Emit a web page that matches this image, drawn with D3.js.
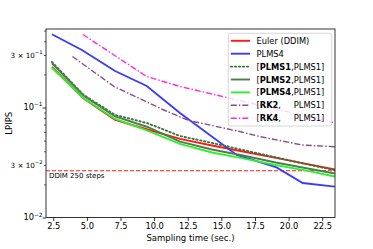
<!DOCTYPE html>
<html>
<head>
<meta charset="utf-8">
<script src="https://cdnjs.cloudflare.com/ajax/libs/d3/7.8.5/d3.min.js"></script>
<style>
body { margin: 0; background: #fff; }
svg text { font-family: "DejaVu Sans", sans-serif; fill: #000; }
</style>
</head>
<body>
<div id="chart"></div>
<script>
//--------------------------- DATA ------------------------------//
var xLower   = [2.40, 4.76, 7.10, 9.51, 11.92, 14.30, 16.60, 19.05, 21.42, 23.43];
var eulerY   = [0.2335, 0.1208, 0.0770, 0.0631, 0.0518, 0.0451, 0.0398, 0.0348, 0.0306, 0.0273];
var plms1Y   = [0.2592, 0.1300, 0.0855, 0.0719, 0.0551, 0.0476, 0.0411, 0.0352, 0.0303, 0.0270];
var plms2Y   = [0.2523, 0.1280, 0.0828, 0.0665, 0.0489, 0.0415, 0.0366, 0.0316, 0.0279, 0.0251];
var plms4mY  = [0.2300, 0.1213, 0.0786, 0.0615, 0.0466, 0.0390, 0.0345, 0.0300, 0.0265, 0.0236];

var plms4X   = [2.40, 4.63, 7.10, 9.45, 11.92, 16.15, 19.10, 21.05, 23.43];
var plms4Y   = [0.463, 0.333, 0.2147, 0.1568, 0.0891, 0.0370, 0.0285, 0.0206, 0.0191];

var rk2X     = [3.93, 7.02, 10.72, 12.57, 16.35, 17.83, 21.02, 23.43];
var rk2Y     = [0.2908, 0.1552, 0.0949, 0.0762, 0.0605, 0.0545, 0.0456, 0.0440];

var rk4X     = [4.70, 9.44, 11.92, 23.30];
var rk4Y     = [0.461, 0.1913, 0.1552, 0.0731];

var ddimRef  = 0.0266;

var xTicks      = [2.5, 5.0, 7.5, 10.0, 12.5, 15.0, 17.5, 20.0, 22.5];
var yMajorTicks = [0.01, 0.1];
var yMinorTicks = [0.02, 0.03, 0.04, 0.05, 0.06, 0.07, 0.08, 0.09, 0.2, 0.3, 0.4, 0.5];
var yLabelTicks = [0.01, 0.03, 0.1, 0.3];

//------------------------- LAYOUT ------------------------------//
var W = 373, H = 249;
var L = 46, R = 335, T = 29, B = 217.5;

var x = d3.scaleLinear().domain([1.96, 23.45]).range([L, R]);
var y = d3.scaleLog().domain([0.01, 0.517]).range([B, T]);

var svg = d3.select("#chart").append("svg")
    .attr("width", W)
    .attr("height", H);

svg.append("defs").append("clipPath").attr("id", "plotclip")
  .append("rect")
    .attr("x", L).attr("y", T)
    .attr("width", R - L).attr("height", B - T);

//-------------------------- AXES -------------------------------//
var xaxis = d3.axisBottom(x)
    .tickValues(xTicks)
    .tickSize(3.5)
    .tickPadding(2)
    .tickFormat(d3.format(".1f"));

var gx = svg.append("g")
    .attr("transform", "translate(0," + B + ")")
    .call(xaxis);
gx.select(".domain").remove();
gx.selectAll("line").attr("stroke", "#000").attr("stroke-width", 0.8);
gx.selectAll("text").attr("font-size", 8.3).attr("font-family", "DejaVu Sans");

var gyMinor = svg.append("g")
    .attr("transform", "translate(" + L + ",0)")
    .call(d3.axisLeft(y).tickValues(yMinorTicks).tickSize(2).tickFormat(""));
gyMinor.select(".domain").remove();
gyMinor.selectAll("line").attr("stroke", "#000").attr("stroke-width", 0.6);

var gyMajor = svg.append("g")
    .attr("transform", "translate(" + L + ",0)")
    .call(d3.axisLeft(y).tickValues(yMajorTicks).tickSize(3.5).tickFormat(""));
gyMajor.select(".domain").remove();
gyMajor.selectAll("line").attr("stroke", "#000").attr("stroke-width", 0.8);

// log tick labels with superscripts
var ylab = svg.append("g");
yLabelTicks.forEach(function(v) {
    var e = Math.floor(Math.log10(v) + 1e-9);
    var m = Math.round(v / Math.pow(10, e));
    var t = ylab.append("text")
        .attr("x", 42.5)
        .attr("y", y(v) + 2.5)
        .attr("text-anchor", "end")
        .attr("font-size", m === 1 ? 8.3 : 7.2);
    t.append("tspan").text(m === 1 ? "10" : m + " \u00d7 10");
    t.append("tspan")
        .attr("dy", -3.5)
        .attr("font-size", m === 1 ? 5.8 : 5.2)
        .text("\u2212" + (-e));
});

svg.append("text")
    .attr("transform", "translate(12," + ((T + B) / 2) + ") rotate(-90)")
    .attr("text-anchor", "middle")
    .attr("font-size", 8.5)
    .text("LPIPS");

svg.append("text")
    .attr("x", (L + R) / 2)
    .attr("y", 241)
    .attr("text-anchor", "middle")
    .attr("font-size", 8.5)
    .text("Sampling time (sec.)");

//-------------------------- LINES ------------------------------//
var plot = svg.append("g").attr("clip-path", "url(#plotclip)");

var line = d3.line()
    .x(function(d) { return x(d[0]); })
    .y(function(d) { return y(d[1]); });

function pairs(xs, ys) { return xs.map(function(v, i) { return [v, ys[i]]; }); }

// reference line
plot.append("path")
    .attr("d", line([[x.domain()[0], ddimRef], [x.domain()[1], ddimRef]]))
    .attr("fill", "none")
    .attr("stroke", "#ff1a1a")
    .attr("stroke-width", 1.2)
    .attr("stroke-dasharray", "4,2");

svg.append("text")
    .attr("x", 49)
    .attr("y", 177.5)
    .attr("font-size", 7)
    .text("DDIM 250 steps");

var series = [
    { name: "euler",  pts: pairs(xLower, eulerY),  color: "#ff1a1a", w: 1.9, dash: null },
    { name: "plms4",  pts: pairs(plms4X, plms4Y),  color: "#3b3bff", w: 1.9, dash: null },
    { name: "plms1m", pts: pairs(xLower, plms1Y),  color: "#3b733b", w: 1.9, dash: "1.4,2.6" },
    { name: "plms2m", pts: pairs(xLower, plms2Y),  color: "#4e7d4e", w: 1.9, dash: null },
    { name: "plms4m", pts: pairs(xLower, plms4mY), color: "#2ef02e", w: 1.9, dash: null },
    { name: "rk2",    pts: pairs(rk2X, rk2Y),      color: "#8a4a8a", w: 1.4, dash: "6,2,1.5,2" },
    { name: "rk4",    pts: pairs(rk4X, rk4Y),      color: "#ff2ad8", w: 1.4, dash: "6,2,1.5,2" }
];

series.forEach(function(s) {
    plot.append("path")
        .attr("d", line(s.pts))
        .attr("fill", "none")
        .attr("stroke", s.color)
        .attr("stroke-width", s.w)
        .attr("stroke-dasharray", s.dash)
        .attr("stroke-linecap", s.dash === "1.4,2.6" ? "round" : "butt");
});

// frame
svg.append("rect")
    .attr("x", L).attr("y", T)
    .attr("width", R - L).attr("height", B - T)
    .attr("fill", "none")
    .attr("stroke", "#000")
    .attr("stroke-width", 0.8);

//-------------------------- LEGEND -----------------------------//
var legendPre  = ["", "", "[", "[", "[", "[", "["];
var legendBold = ["", "", "PLMS1", "PLMS2", "PLMS4", "RK2", "RK4"];
var legendPost = ["Euler (DDIM)", "PLMS4", ",PLMS1]", ",PLMS1]", ",PLMS1]", ",", ","];

var lg = svg.append("g");
lg.append("rect")
    .attr("x", 228.3).attr("y", 33.3)
    .attr("width", 103.4).attr("height", 92.7)
    .attr("rx", 2)
    .attr("fill", "#fff").attr("fill-opacity", 0.8)
    .attr("stroke", "#cccccc").attr("stroke-width", 0.8);

var refEnd = null;
series.forEach(function(s, i) {
    var cy = 40.8 + i * 12.9;
    lg.append("line")
        .attr("x1", 230.8).attr("x2", 250)
        .attr("y1", cy).attr("y2", cy)
        .attr("stroke", s.color)
        .attr("stroke-width", s.w)
        .attr("stroke-dasharray", s.dash)
        .attr("stroke-linecap", s.dash === "1.4,2.6" ? "round" : "butt");
    var t = lg.append("text")
        .attr("x", 256.5)
        .attr("y", cy + 3)
        .attr("font-size", 8.3);
    if (legendPre[i]) t.append("tspan").text(legendPre[i]);
    if (legendBold[i]) t.append("tspan").attr("font-weight", "bold").text(legendBold[i]);
    t.append("tspan").text(legendPost[i]);
    if (i === 2) refEnd = 256.5 + t.node().getComputedTextLength();
    if (legendPost[i] === ",") {
        lg.append("text")
            .attr("x", refEnd)
            .attr("y", cy + 3)
            .attr("text-anchor", "end")
            .attr("font-size", 8.3)
            .text("PLMS1]");
    }
});
</script>
</body>
</html>
